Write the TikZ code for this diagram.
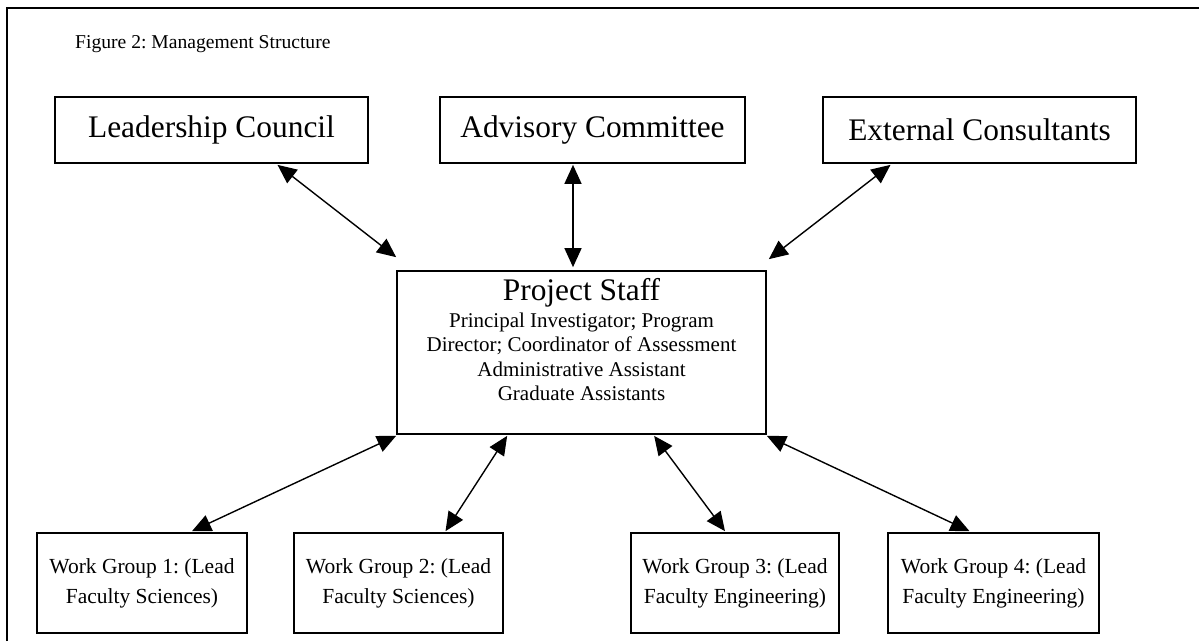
\documentclass[tikz,border=0pt]{standalone}
\usepackage{fontspec}
\setmainfont{Liberation Serif}
\usetikzlibrary{arrows.meta}
\frenchspacing
\begin{document}
\begin{tikzpicture}[x=1pt,y=-1pt,
  frame/.style={line width=1.8pt},
  box/.style={draw, line width=1.7pt, inner sep=0pt, align=center},
  topbox/.style={box, minimum width=313pt, minimum height=66pt, font=\fontsize{31.4}{36}\selectfont},
  wgbox/.style={box, minimum width=210pt, minimum height=100pt, font=\fontsize{21.5}{30}\selectfont},
  dbl/.style={line width=1.4pt, {Triangle[length=19pt,width=17pt]}-{Triangle[length=19pt,width=17pt]}}]
\useasboundingbox (0,0) rectangle (1199,641);
\fill[white] (0,0) rectangle (1199,641);
\draw[frame] (7,641) -- (7,8) -- (1199,8);
\node[anchor=base west, inner sep=0pt, font=\fontsize{19.6}{24}\selectfont] (title) at (75,48) {Figure 2: Management Structure};
\node[topbox] (lc) at (211.5,130) {Leadership Council};
\node[topbox, minimum width=305pt] (ac) at (592.5,130) {Advisory Committee};
\node[topbox] (ec) at (979.5,130) {External Consultants};
\node[box, minimum width=369pt, minimum height=163pt] (ps) at (581.5,352.5) {};
\node[anchor=base, inner sep=0pt, font=\fontsize{31.4}{36}\selectfont] (pst) at (581.5,300) {Project Staff};
\node[anchor=north, inner sep=0pt, align=center, font=\fontsize{21}{24.5}\selectfont] (psb) at (581.5,312.7)
  {Principal Investigator; Program\\Director; Coordinator of Assessment\\Administrative Assistant\\Graduate Assistants};
\node[wgbox] (wg1) at (142,583) {Work Group 1: (Lead\\Faculty Sciences)};
\node[wgbox, minimum width=209pt] (wg2) at (398.5,583) {Work Group 2: (Lead\\Faculty Sciences)};
\node[wgbox, minimum width=208pt] (wg3) at (735,583) {Work Group 3: (Lead\\Faculty Engineering)};
\node[wgbox, minimum width=211pt] (wg4) at (993.5,583) {Work Group 4: (Lead\\Faculty Engineering)};
\draw[dbl] ([xshift=66pt,yshift=-1pt]lc.south) -- ([yshift=13pt]ps.north west);
\draw[dbl] ([xshift=-19.5pt,yshift=-1pt]ac.south) -- ([xshift=-8.5pt,yshift=3pt]ps.north);
\draw[dbl] ([xshift=-89pt,yshift=-1pt]ec.south) -- ([xshift=2pt,yshift=11pt]ps.north east);
\draw[dbl] ([yshift=-1pt]ps.south west) -- ([xshift=50pt,yshift=1pt]wg1.north);
\draw[dbl] ([xshift=111pt,yshift=-1pt]ps.south west) -- ([xshift=47pt,yshift=1pt]wg2.north);
\draw[dbl] ([xshift=258pt,yshift=-1pt]ps.south west) -- ([xshift=-10pt,yshift=1pt]wg3.north);
\draw[dbl] ([yshift=-1pt]ps.south east) -- ([xshift=-24pt,yshift=1pt]wg4.north);
\end{tikzpicture}
\end{document}
